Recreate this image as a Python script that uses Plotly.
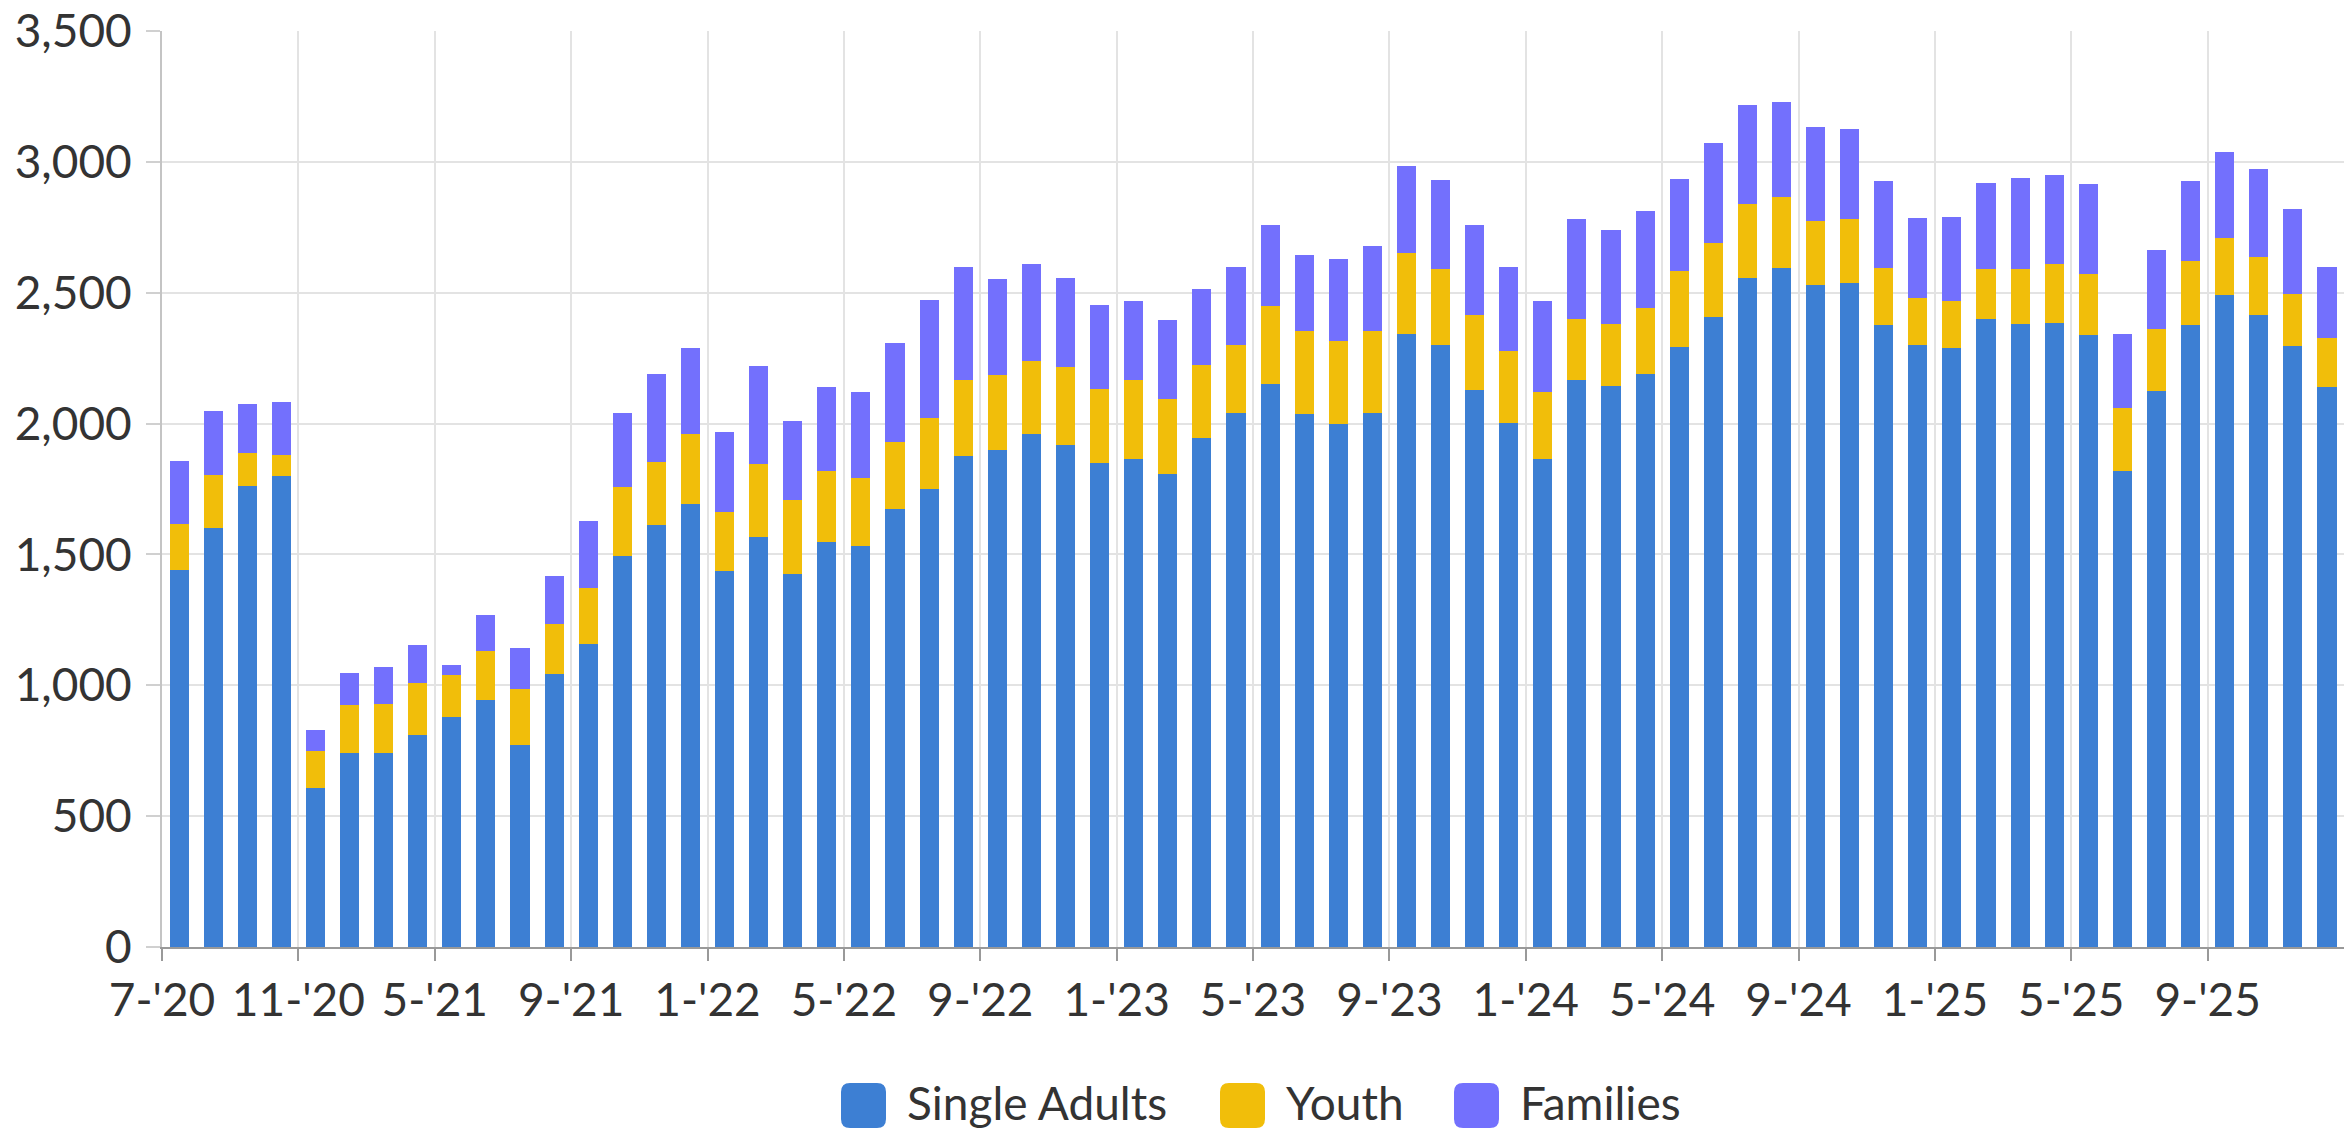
import plotly.graph_objects as go

months = [
    "7-'20", "8-'20", "9-'20", "10-'20", "11-'20", "2-'21", "3-'21", "4-'21",
    "5-'21", "6-'21", "7-'21", "8-'21", "9-'21", "10-'21", "11-'21", "12-'21",
    "1-'22", "2-'22", "3-'22", "4-'22", "5-'22", "6-'22", "7-'22", "8-'22",
    "9-'22", "10-'22", "11-'22", "12-'22", "1-'23", "2-'23", "3-'23", "4-'23",
    "5-'23", "6-'23", "7-'23", "8-'23", "9-'23", "10-'23", "11-'23", "12-'23",
    "1-'24", "2-'24", "3-'24", "4-'24", "5-'24", "6-'24", "7-'24", "8-'24",
    "9-'24", "10-'24", "11-'24", "12-'24", "1-'25", "2-'25", "3-'25", "4-'25",
    "5-'25", "6-'25", "7-'25", "8-'25", "9-'25", "10-'25", "11-'25", "12-'25",
]

single_adults = [
    1442, 1601, 1763, 1800, 607, 741, 741, 809,
    879, 945, 771, 1043, 1156, 1493, 1613, 1692,
    1437, 1566, 1425, 1549, 1531, 1674, 1751, 1875,
    1899, 1962, 1920, 1849, 1864, 1807, 1943, 2042,
    2152, 2035, 1997, 2042, 2344, 2302, 2129, 2004,
    1864, 2168, 2145, 2190, 2293, 2407, 2557, 2595,
    2529, 2536, 2377, 2302, 2288, 2398, 2379, 2386,
    2337, 1819, 2126, 2375, 2492, 2415, 2297, 2138,
]

youth = [
    175, 202, 124, 80, 143, 185, 187, 199,
    162, 185, 216, 190, 215, 263, 241, 270,
    225, 279, 284, 268, 262, 255, 270, 291,
    286, 279, 298, 282, 302, 286, 282, 260,
    298, 318, 317, 311, 307, 288, 286, 272,
    255, 232, 237, 250, 290, 284, 282, 272,
    244, 247, 218, 176, 180, 192, 211, 225,
    235, 239, 235, 246, 216, 220, 197, 190,
]

families = [
    240, 246, 188, 202, 80, 122, 141, 145,
    37, 138, 157, 185, 258, 283, 335, 326,
    307, 375, 302, 323, 326, 380, 452, 434,
    368, 368, 337, 321, 302, 303, 290, 298,
    309, 291, 316, 326, 333, 340, 342, 324,
    349, 380, 358, 373, 352, 382, 377, 363,
    361, 342, 330, 309, 322, 331, 347, 340,
    344, 286, 304, 307, 330, 338, 324, 272,
]

series = [
    ("Single Adults", single_adults, "#3D7FD3"),
    ("Youth", youth, "#F1BE0A"),
    ("Families", families, "#7370FD"),
]

W, H = 2344, 1130
L, R, T, B = 162, 0, 31, 183
PW, PH = W - L - R, H - T - B
FONT = "Lato, 'Open Sans', sans-serif"
TEXT = "#333333"

xpos = list(range(len(months)))
tick_idx = list(range(0, len(months), 4))

fig = go.Figure()
for name, vals, color in series:
    fig.add_trace(go.Bar(
        x=xpos, y=vals, name=name, customdata=months,
        marker=dict(color=color, line=dict(width=0)),
        hovertemplate="%{customdata}<br>" + name + ": %{y:,}<extra></extra>",
        showlegend=False,
    ))


def px_x(p):
    return (p - L) / PW


def px_y(p):
    return (H - B - p) / PH


def rounded_box(x0, y0, size, r):
    # rounded square in paper coords, given pixel corners
    a, b = px_x(x0), px_x(x0 + size)
    c, d = px_y(y0), px_y(y0 + size)
    rx, ry = r / PW, r / PH
    return (f"M{a+rx},{c} L{b-rx},{c} Q{b},{c} {b},{c-ry} "
            f"L{b},{d+ry} Q{b},{d} {b-rx},{d} L{a+rx},{d} "
            f"Q{a},{d} {a},{d+ry} L{a},{c-ry} Q{a},{c} {a+rx},{c} Z")


legend_keys = [841, 1220, 1454]
shapes, annotations = [], []
for (name, _, color), kx in zip(series, legend_keys):
    shapes.append(dict(type="path", xref="paper", yref="paper",
                       path=rounded_box(kx, 1083, 45, 9),
                       fillcolor=color, line=dict(width=0)))
    annotations.append(dict(x=px_x(kx + 64), y=px_y(1102), xref="paper", yref="paper",
                            text=name, showarrow=False, xanchor="left", yanchor="middle",
                            font=dict(family=FONT, size=46, color=TEXT)))

fig.update_layout(
    barmode="stack",
    bargap=0.44,
    width=W, height=H,
    margin=dict(l=L, r=R, t=T, b=B, pad=0, autoexpand=False),
    plot_bgcolor="white", paper_bgcolor="white",
    font=dict(family=FONT, size=46, color=TEXT),
    shapes=shapes,
    annotations=annotations,
    xaxis=dict(
        automargin=False,
        range=[-0.5, len(months) - 0.5],
        tickvals=[i - 0.5 for i in tick_idx],
        ticktext=[months[i] for i in tick_idx],
        showgrid=True, gridcolor="#e3e3e3", gridwidth=1.5,
        ticks="outside", ticklen=12, tickwidth=1.5, tickcolor="#999999",
        showline=True, linecolor="#999999", linewidth=1.5,
        zeroline=False,
        ticklabeloverflow="allow",
        tickfont=dict(family=FONT, size=46, color=TEXT),
    ),
    yaxis=dict(
        automargin=False,
        range=[0, 3500],
        tickvals=list(range(0, 3501, 500)),
        tickformat=",",
        showgrid=True, gridcolor="#e3e3e3", gridwidth=1.5,
        ticks="outside", ticklen=14, tickwidth=1.5, tickcolor="#d0d0d0",
        showline=True, linecolor="#c4c4c4", linewidth=2,
        zeroline=False,
        ticklabeloverflow="allow",
        ticklabelstandoff=5,
        tickfont=dict(family=FONT, size=46, color=TEXT),
    ),
)

# drop the browser's default body margin so the figure sits at the page corner
fig.write_html("out.html", config={"displayModeBar": False},
               post_script="document.body.style.margin = '0';")
